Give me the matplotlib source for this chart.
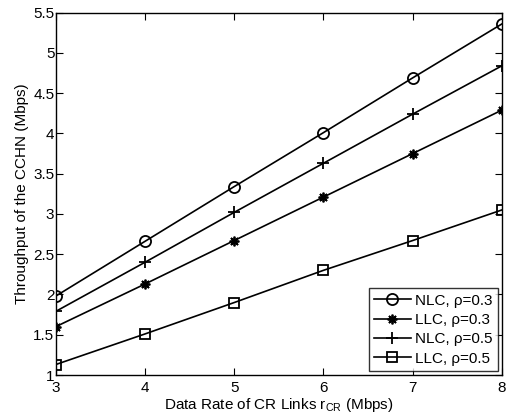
import numpy as np
import matplotlib.pyplot as plt

plt.rcParams['font.family'] = ['Liberation Sans', 'DejaVu Sans']
plt.rcParams['mathtext.fontset'] = 'custom'
plt.rcParams['mathtext.rm'] = 'Liberation Sans'
plt.rcParams['mathtext.it'] = 'Liberation Sans'

rate = [3, 4, 5, 6, 7, 8]
nlc_03 = [1.98, 2.66, 3.34, 4.01, 4.69, 5.36]
llc_03 = [1.60, 2.13, 2.67, 3.21, 3.75, 4.29]
nlc_05 = [1.79, 2.40, 3.02, 3.63, 4.24, 4.84]
llc_05 = [1.13, 1.51, 1.90, 2.30, 2.67, 3.05]

fig = plt.figure(figsize=(5.07, 4.17), dpi=100)
ax = fig.add_axes([0.110, 0.1007, 0.880, 0.869])

kw = dict(color='k', linewidth=1.2, markeredgewidth=1.3)
ax.plot(rate, nlc_03, marker='o', markerfacecolor='none', markersize=8, label=u'NLC, \u03c1=0.3', **kw)
ax.plot(rate, llc_03, marker=(8, 2, 0), markersize=7, label=u'LLC, \u03c1=0.3', **kw)
ax.plot(rate, nlc_05, marker='+', markersize=8, label=u'NLC, \u03c1=0.5', **kw)
ax.plot(rate, llc_05, marker='s', markerfacecolor='none', markersize=6.5, label=u'LLC, \u03c1=0.5', **kw)

ax.set_xlim(3, 8)
ax.set_ylim(1, 5.5)
ax.set_xticks(rate)
ax.set_yticks(np.arange(1, 5.51, 0.5))
ax.set_yticklabels(['1', '1.5', '2', '2.5', '3', '3.5', '4', '4.5', '5', '5.5'])
ax.tick_params(direction='in', top=True, right=True, labelsize=11, length=5)
ax.tick_params(axis='y', pad=1)
ax.tick_params(axis='x', pad=4)
for s in ax.spines.values():
    s.set_linewidth(1.0)

ax.set_xlabel(r'Data Rate of CR Links r$_{\mathrm{CR}}$ (Mbps)', fontsize=11, labelpad=1)
ax.set_ylabel('Throughput of the CCHN (Mbps)', fontsize=11, labelpad=3)

leg = ax.legend(loc='lower right', fontsize=11, fancybox=False, edgecolor='k',
                borderaxespad=0.25, handlelength=2.4, labelspacing=0.35, borderpad=0.35,
                handletextpad=0.3)
leg.get_frame().set_linewidth(1.0)

plt.savefig('out.png', dpi=100)
